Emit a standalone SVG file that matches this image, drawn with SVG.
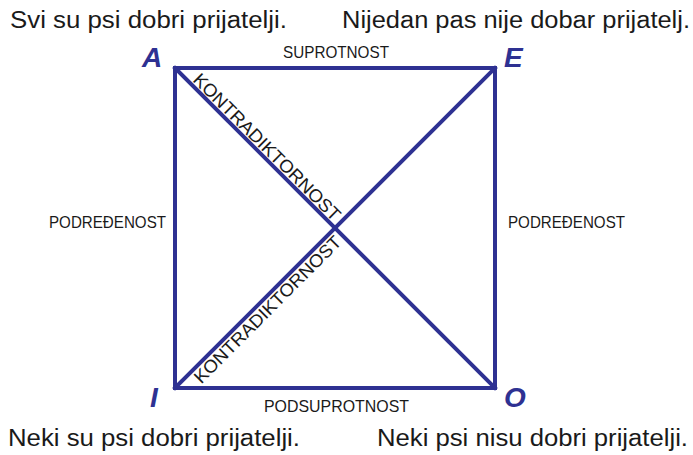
<svg xmlns="http://www.w3.org/2000/svg" width="693" height="455" viewBox="0 0 693 455">
<style>
.ln{stroke:#2e3192;stroke-width:4;fill:none;stroke-linecap:square}
.cap{font-family:"Liberation Sans",Arial,sans-serif;font-size:16.5px;fill:#1a1a1a}
.sent{font-family:"Liberation Sans",Arial,sans-serif;font-size:23px;fill:#1a1a1a}
.ltr{font-family:"Liberation Sans",Arial,sans-serif;font-size:28px;font-weight:bold;font-style:italic;fill:#2e3192}
.diag{font-family:"Liberation Sans",Arial,sans-serif;font-size:18px;fill:#1a1a1a}
</style>
<rect width="693" height="455" fill="#fff"/>
<g id="connectors">
<rect class="ln" x="175" y="68" width="320" height="320"/>
<line class="ln" x1="175" y1="68" x2="495" y2="388"/>
<line class="ln" x1="175" y1="388" x2="495" y2="68"/>
</g>
<g id="node-A"><text class="ltr" x="142" y="67">A</text><text class="sent" x="10" y="28" textLength="277" lengthAdjust="spacingAndGlyphs">Svi su psi dobri prijatelji.</text></g>
<g id="node-E"><text class="ltr" x="504" y="67">E</text><text class="sent" x="342" y="28" textLength="348" lengthAdjust="spacingAndGlyphs">Nijedan pas nije dobar prijatelj.</text></g>
<g id="node-I"><text class="ltr" x="150" y="407">I</text><text class="sent" x="8" y="446" textLength="292" lengthAdjust="spacingAndGlyphs">Neki su psi dobri prijatelji.</text></g>
<g id="node-O"><text class="ltr" x="504" y="407">O</text><text class="sent" x="377" y="446" textLength="311" lengthAdjust="spacingAndGlyphs">Neki psi nisu dobri prijatelji.</text></g>
<g id="labels">
<text class="cap" x="283" y="58" textLength="106" lengthAdjust="spacingAndGlyphs">SUPROTNOST</text>
<text class="cap" x="49" y="228" textLength="117" lengthAdjust="spacingAndGlyphs">PODREĐENOST</text>
<text class="cap" x="508" y="228" textLength="117" lengthAdjust="spacingAndGlyphs">PODREĐENOST</text>
<text class="cap" x="264" y="412" textLength="145" lengthAdjust="spacingAndGlyphs">PODSUPROTNOST</text>
<text class="diag" x="192" y="80.7" transform="rotate(45 192 80.7)" textLength="200" lengthAdjust="spacingAndGlyphs">KONTRADIKTORNOST</text>
<text class="diag" x="201.2" y="384.5" transform="rotate(-45 201.2 384.5)" textLength="200" lengthAdjust="spacingAndGlyphs">KONTRADIKTORNOST</text>
</g>
</svg>
